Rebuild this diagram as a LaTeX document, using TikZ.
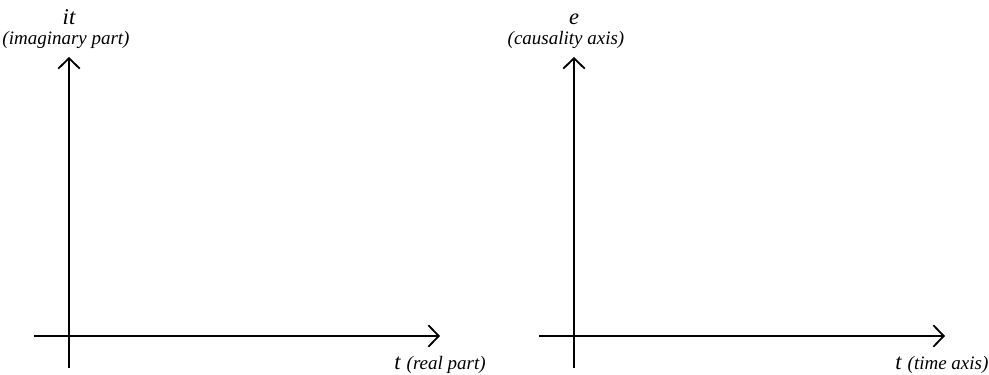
\documentclass[tikz,border=0pt]{standalone}
\usepackage{fontspec}
\setmainfont{Liberation Serif}
\usetikzlibrary{arrows.meta, positioning}

\begin{document}
\begin{tikzpicture}[
    x=0.025cm, y=-0.025cm,
    axis/.style={-{Straight Barb[length=2.6mm, width=5.4mm]}, line width=1.3pt, black},
    plainaxis/.style={line width=1.3pt, black},
    bigvar/.style={font=\fontsize{16}{18}\selectfont\itshape, inner sep=0pt},
    axnote/.style={font=\fontsize{13.5}{15}\selectfont\itshape, inner sep=0pt}
]
\useasboundingbox (0,0) rectangle (989,375);

% Left plot: complex plane
\coordinate (lorigin) at (69,336);
\coordinate (lleft) at (34,336);
\coordinate (lright) at (440,336);
\coordinate (lbottom) at (69,368);
\coordinate (ltop) at (69,57);
\draw[plainaxis] (lbottom) -- (lorigin);
\draw[axis] (lorigin) -- (ltop);
\draw[plainaxis] (lleft) -- (lorigin);
\draw[axis] (lorigin) -- (lright);

\node[axnote] (imnote) at (66,40) {(imaginary part)};
\node[bigvar, anchor=base] (imvar) at (69,24) {it};
\node[bigvar, anchor=base west] (revar) at (394,369) {t};
\node[axnote, right=4pt of revar.base east, anchor=base west] (renote) {(real part)};

% Right plot: causality axis vs time axis
\coordinate (rorigin) at (574,336);
\coordinate (rleft) at (539,336);
\coordinate (rright) at (945,336);
\coordinate (rbottom) at (574,368);
\coordinate (rtop) at (574,57);
\draw[plainaxis] (rbottom) -- (rorigin);
\draw[axis] (rorigin) -- (rtop);
\draw[plainaxis] (rleft) -- (rorigin);
\draw[axis] (rorigin) -- (rright);

\node[axnote] (causnote) at (566,40) {(causality axis)};
\node[bigvar, anchor=base] (causvar) at (574,24) {e};
\node[bigvar, anchor=base west] (timevar) at (895,369) {t};
\node[axnote, right=4pt of timevar.base east, anchor=base west] (timenote) {(time axis)};
\end{tikzpicture}
\end{document}
